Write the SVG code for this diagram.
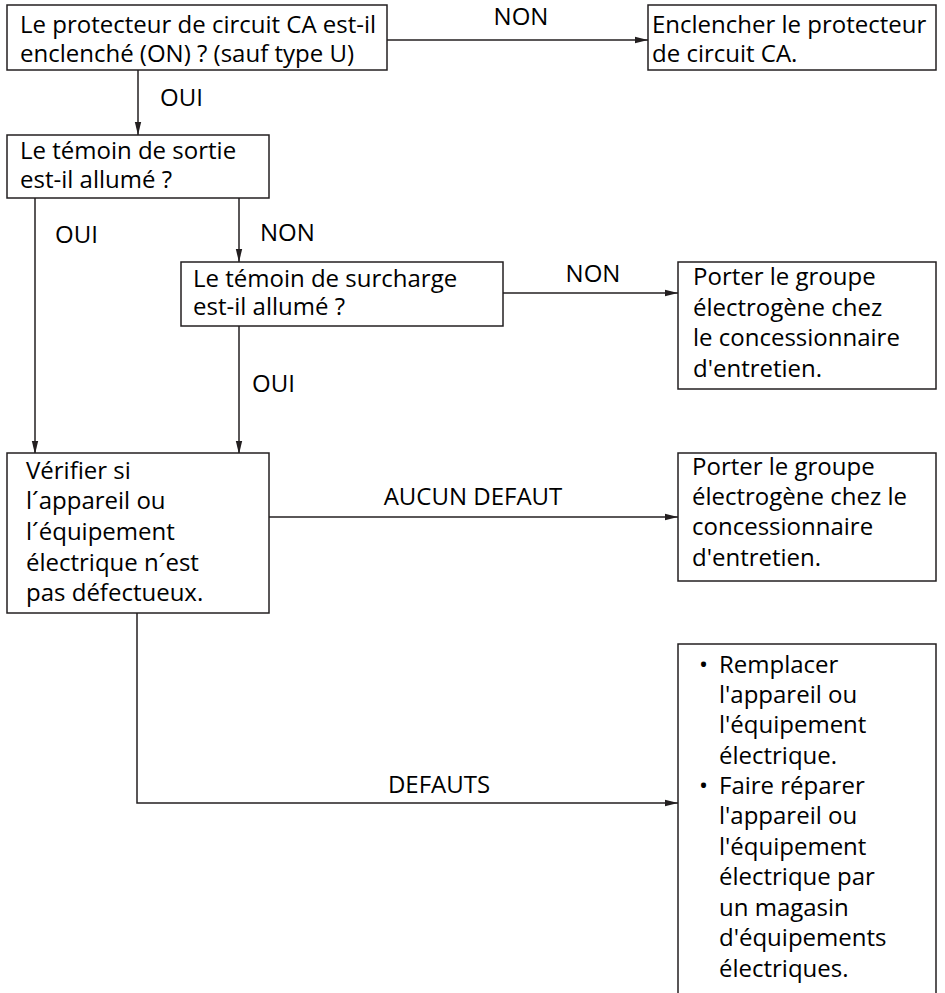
<svg xmlns="http://www.w3.org/2000/svg" width="945" height="993" viewBox="0 0 945 993">
<defs>
<marker id="ah" markerWidth="14" markerHeight="8" refX="13" refY="4" orient="auto" markerUnits="userSpaceOnUse">
<path d="M0,0.8 L13,4 L0,7.2 Z" fill="#231f20"/>
</marker>
<style>
text{font-family:"Open Sans","Noto Sans",sans-serif;font-size:24px;fill:#000}
.box{fill:#fff;stroke:#231f20;stroke-width:1.5}
.ln{fill:none;stroke:#231f20;stroke-width:1.5}
.lbl{text-anchor:middle}
</style>
</defs>
<rect width="945" height="993" fill="#fff"/>
<g id="connectors">
<line class="ln" x1="387" y1="40" x2="648" y2="40" marker-end="url(#ah)"/>
<line class="ln" x1="138" y1="70" x2="138" y2="135" marker-end="url(#ah)"/>
<line class="ln" x1="35" y1="198" x2="35" y2="454" marker-end="url(#ah)"/>
<line class="ln" x1="239" y1="198" x2="239" y2="262" marker-end="url(#ah)"/>
<line class="ln" x1="503" y1="293" x2="678" y2="293" marker-end="url(#ah)"/>
<line class="ln" x1="239" y1="326" x2="239" y2="454" marker-end="url(#ah)"/>
<line class="ln" x1="269" y1="517" x2="678" y2="517" marker-end="url(#ah)"/>
<polyline class="ln" points="137,613 137,803 678,803" marker-end="url(#ah)"/>
<text class="lbl" x="521" y="25">NON</text>
<text x="160" y="106">OUI</text>
<text x="55" y="243">OUI</text>
<text x="260" y="241">NON</text>
<text class="lbl" x="593" y="282">NON</text>
<text x="252" y="392">OUI</text>
<text class="lbl" x="473" y="505">AUCUN DEFAUT</text>
<text class="lbl" x="439" y="793">DEFAUTS</text>
</g>
<g id="n1">
<rect class="box" x="7" y="5" width="380" height="65"/>
<text x="20" y="33">Le protecteur de circuit CA est-il</text>
<text x="20" y="62">enclenché (ON) ? (sauf type U)</text>
</g>
<g id="n2">
<rect class="box" x="648" y="5" width="288" height="65"/>
<text x="652" y="33">Enclencher le protecteur</text>
<text x="652" y="62">de circuit CA.</text>
</g>
<g id="n3">
<rect class="box" x="7" y="135" width="262" height="63"/>
<text x="20" y="159">Le témoin de sortie</text>
<text x="20" y="188">est-il allumé ?</text>
</g>
<g id="n4">
<rect class="box" x="181" y="262" width="322" height="64"/>
<text x="193" y="287">Le témoin de surcharge</text>
<text x="193" y="315">est-il allumé ?</text>
</g>
<g id="n5">
<rect class="box" x="678" y="262" width="258" height="127"/>
<text x="693" y="285">Porter le groupe</text>
<text x="693" y="316">électrogène chez</text>
<text x="693" y="346">le concessionnaire</text>
<text x="693" y="377">d'entretien.</text>
</g>
<g id="n6">
<rect class="box" x="7" y="453" width="262" height="160"/>
<text x="26" y="479">Vérifier si</text>
<text x="26" y="509">l´appareil ou</text>
<text x="26" y="540">l´équipement</text>
<text x="26" y="571">électrique n´est</text>
<text x="26" y="601">pas défectueux.</text>
</g>
<g id="n7">
<rect class="box" x="678" y="453" width="258" height="128"/>
<text x="692" y="475">Porter le groupe</text>
<text x="692" y="505">électrogène chez le</text>
<text x="692" y="535">concessionnaire</text>
<text x="692" y="566">d'entretien.</text>
</g>
<g id="n8">
<polyline class="ln" points="678,993 678,644 936,644 936,993"/>
<text x="699" y="673">•</text>
<text x="719" y="673">Remplacer</text>
<text x="719" y="703">l'appareil ou</text>
<text x="719" y="733">l'équipement</text>
<text x="719" y="764">électrique.</text>
<text x="699" y="794">•</text>
<text x="719" y="794">Faire réparer</text>
<text x="719" y="824">l'appareil ou</text>
<text x="719" y="855">l'équipement</text>
<text x="719" y="885">électrique par</text>
<text x="719" y="916">un magasin</text>
<text x="719" y="946">d'équipements</text>
<text x="719" y="977">électriques.</text>
</g>
</svg>
